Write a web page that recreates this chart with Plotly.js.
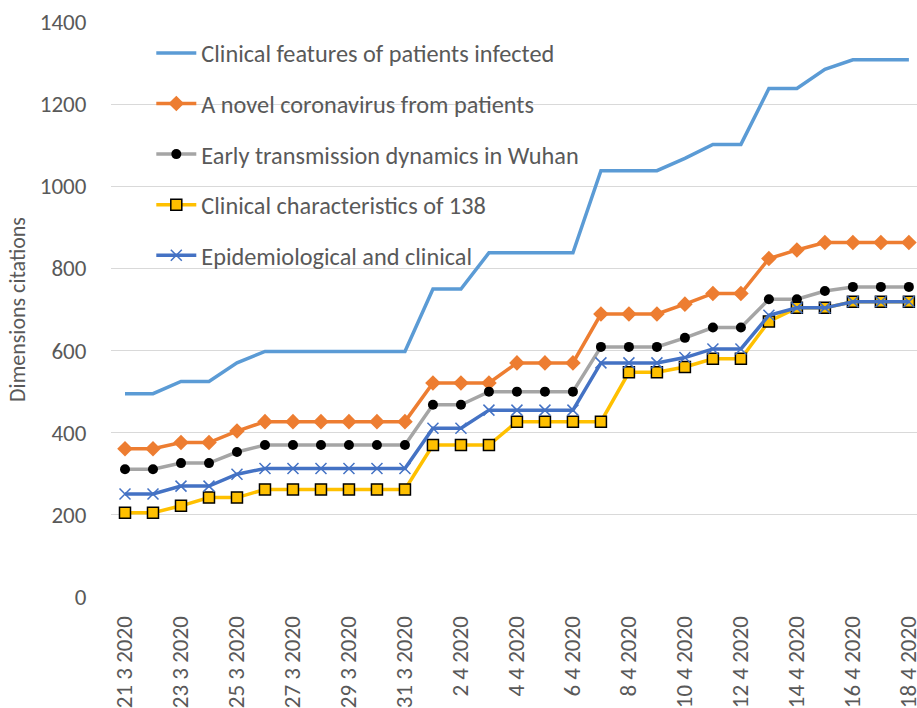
<!DOCTYPE html>
<html>
<head>
<meta charset="utf-8">
<script src="https://cdn.plot.ly/plotly-3.0.1.min.js"></script>
<style>html,body{margin:0;padding:0;background:#fff}#chart{width:917px;height:708px}</style>
</head>
<body>
<div id="chart"></div>
<script>
const dates = ["21 3 2020","22 3 2020","23 3 2020","24 3 2020","25 3 2020","26 3 2020","27 3 2020","28 3 2020","29 3 2020","30 3 2020","31 3 2020",
  "1 4 2020","2 4 2020","3 4 2020","4 4 2020","5 4 2020","6 4 2020","7 4 2020","8 4 2020","9 4 2020","10 4 2020",
  "11 4 2020","12 4 2020","13 4 2020","14 4 2020","15 4 2020","16 4 2020","17 4 2020","18 4 2020"];
const clinicalFeatures = [495,495,525,525,570,598,598,598,598,598,598,750,750,838,838,838,838,1038,1038,1038,1068,1102,1102,1238,1238,1285,1308,1308,1308];
const novelCoronavirus = [361,361,376,376,404,427,427,427,427,427,427,521,521,521,570,570,570,689,689,689,713,739,739,824,845,863,863,863,863];
const earlyTransmission = [311,311,326,326,353,370,370,370,370,370,370,468,468,500,500,500,500,609,609,609,631,656,656,725,725,745,755,755,755];
const clinicalCharacteristics = [205,205,222,242,242,262,262,262,262,262,262,370,370,370,427,427,427,427,547,547,560,580,580,671,704,704,719,719,719];
const epidemiological = [251,251,270,270,299,313,313,313,313,313,313,411,411,455,455,455,455,570,570,570,583,604,604,686,704,704,719,719,719];
const seriesNames = ["Clinical features of patients infected","A novel coronavirus from patients","Early transmission dynamics in Wuhan","Clinical characteristics of 138","Epidemiological and clinical"];

const font = "Carlito, Lato, 'Liberation Sans', sans-serif";
const traces = [
  {x: dates, y: clinicalFeatures, name: seriesNames[0], type: "scatter", mode: "lines", legendgroup: "a",
   line: {color: "#5B9BD5", width: 3.5}},
  {x: dates, y: novelCoronavirus, name: seriesNames[1], type: "scatter", mode: "lines+markers", legendgroup: "b",
   line: {color: "#ED7D31", width: 3.5}, marker: {symbol: "diamond", size: 12, color: "#ED7D31"}},
  {x: dates, y: earlyTransmission, name: seriesNames[2], type: "scatter", mode: "lines+markers", legendgroup: "c",
   line: {color: "#A5A5A5", width: 3.5}, marker: {symbol: "circle", size: 10, color: "#000000"}},
  {x: dates, y: clinicalCharacteristics, name: seriesNames[3], type: "scatter", mode: "lines+markers", legendgroup: "d",
   line: {color: "#FFC000", width: 3.5}, marker: {symbol: "square", size: 11, color: "#FFC000", line: {color: "#000000", width: 1.5}}},
  {x: dates, y: epidemiological, name: seriesNames[4], type: "scatter", mode: "lines+markers", legendgroup: "e",
   line: {color: "#4472C4", width: 3.5}, marker: {symbol: "x-thin-open", size: 11, color: "#4472C4", line: {color: "#4472C4", width: 1.5}}}
];

const layout = {
  width: 917, height: 708,
  margin: {l: 111, r: 0, t: 22, b: 111},
  paper_bgcolor: "#ffffff", plot_bgcolor: "#ffffff",
  font: {family: font, color: "#595959", size: 23},
  showlegend: true,
  legend: {x: 0.05, y: 0.985, xanchor: "left", yanchor: "top", bgcolor: "rgba(0,0,0,0)",
           font: {family: font, size: 24.3, color: "#595959"}, tracegroupgap: 16, itemwidth: 40},
  xaxis: {type: "category", range: [-0.5, 28.29], dtick: 2, tick0: 0, tickangle: -90,
          showgrid: false, showline: false, zeroline: false,
          ticks: "outside", ticklen: 9, tickcolor: "rgba(0,0,0,0)",
          tickfont: {family: font, size: 23, color: "#595959"}, fixedrange: true},
  yaxis: {range: [0, 1400], dtick: 200, showgrid: true, gridcolor: "#D9D9D9", gridwidth: 1,
          zeroline: false, showline: false, ticks: "outside", ticklen: 19, tickcolor: "rgba(0,0,0,0)",
          tickfont: {family: font, size: 23, color: "#595959"},
          title: {text: "Dimensions citations", font: {family: font, size: 22, color: "#595959"}, standoff: 8}}
};

Plotly.newPlot("chart", traces, layout, {displayModeBar: false, staticPlot: true});
</script>
</body>
</html>
